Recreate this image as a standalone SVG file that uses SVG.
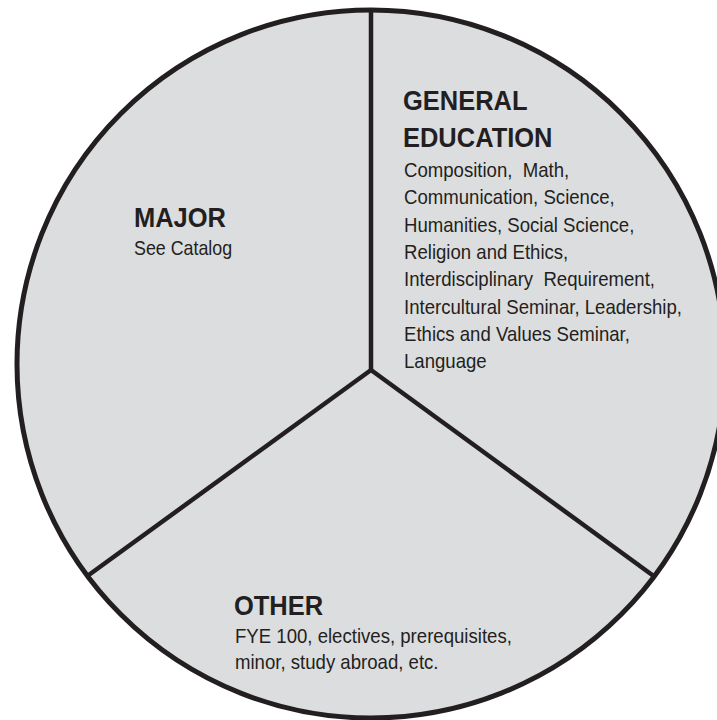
<svg xmlns="http://www.w3.org/2000/svg" width="717" height="720" viewBox="0 0 717 720">
<style>
.h{font-family:"Liberation Sans",Arial,sans-serif;font-weight:bold;font-size:28px;fill:#231f20}
.b{font-family:"Liberation Sans",Arial,sans-serif;font-size:20px;fill:#231f20;white-space:pre}
.ln{stroke:#231f20;stroke-width:4.5;fill:none}
</style>
<rect width="717" height="720" fill="#ffffff"/>
<g id="circle">
<circle cx="371" cy="364" r="354" fill="#dcdddf" stroke="#231f20" stroke-width="5"/>
</g>
<g id="connectors">
<line class="ln" x1="371" y1="10" x2="371" y2="370"/>
<line class="ln" x1="371" y1="370" x2="86" y2="577"/>
<line class="ln" x1="371" y1="370" x2="655" y2="577"/>
</g>
<g id="major">
<text class="h" transform="translate(134,227) scale(0.91,1)">MAJOR</text>
<text class="b" transform="translate(134,255) scale(0.915,1)" style="font-size:19.5px">See Catalog</text>
</g>
<g id="general-education">
<text class="h" transform="translate(403,110) scale(0.91,1)">GENERAL</text>
<text class="h" transform="translate(403,147) scale(0.91,1)">EDUCATION</text>
<text class="b" transform="translate(404,177) scale(0.93,1)" xml:space="preserve">Composition,  Math,</text>
<text class="b" transform="translate(404,204) scale(0.93,1)">Communication, Science,</text>
<text class="b" transform="translate(404,232) scale(0.93,1)">Humanities, Social Science,</text>
<text class="b" transform="translate(404,259) scale(0.93,1)">Religion and Ethics,</text>
<text class="b" transform="translate(404,286) scale(0.93,1)" xml:space="preserve">Interdisciplinary  Requirement,</text>
<text class="b" transform="translate(404,314) scale(0.93,1)">Intercultural Seminar, Leadership,</text>
<text class="b" transform="translate(404,341) scale(0.93,1)">Ethics and Values Seminar,</text>
<text class="b" transform="translate(404,368) scale(0.93,1)">Language</text>
</g>
<g id="other">
<text class="h" transform="translate(234,615) scale(0.91,1)">OTHER</text>
<text class="b" transform="translate(235,643) scale(0.93,1)">FYE 100, electives, prerequisites,</text>
<text class="b" transform="translate(235,669) scale(0.93,1)">minor, study abroad, etc.</text>
</g>
</svg>
